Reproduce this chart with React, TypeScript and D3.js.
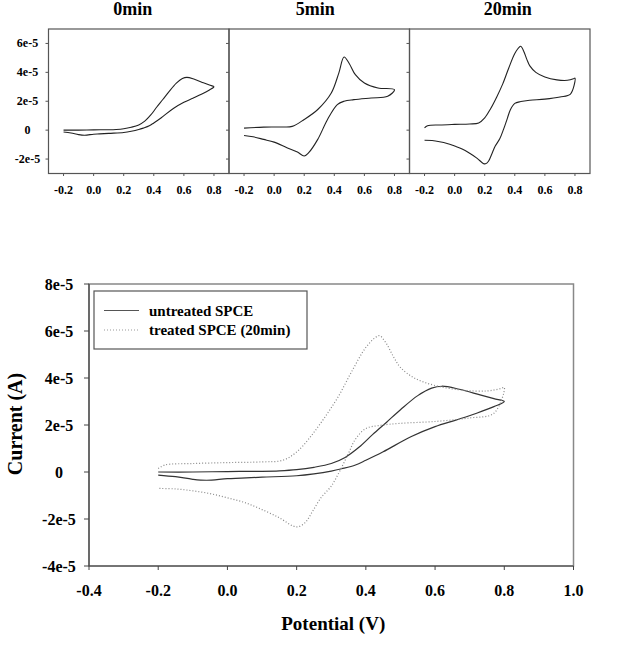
import React from "react";
import * as d3 from "d3";

// potential (V), current (units of 1e-5 A)
const untreatedForward: [number, number][] = [
  [-0.2, 0.0], [-0.1, 0.0], [0.0, 0.02], [0.1, 0.03], [0.15, 0.05], [0.2, 0.1],
  [0.25, 0.2], [0.3, 0.36], [0.34, 0.62], [0.38, 1.05], [0.42, 1.6], [0.46, 2.12],
  [0.5, 2.65], [0.55, 3.25], [0.59, 3.57], [0.62, 3.65], [0.67, 3.52], [0.73, 3.28],
  [0.77, 3.12], [0.8, 3.0],
];
const untreatedReverse: [number, number][] = [
  [0.8, 3.0], [0.77, 2.78], [0.72, 2.5], [0.66, 2.21], [0.6, 1.93], [0.53, 1.5],
  [0.45, 0.86], [0.4, 0.5], [0.37, 0.3], [0.33, 0.14], [0.3, 0.04], [0.25, -0.08],
  [0.2, -0.16], [0.1, -0.22], [0.04, -0.26], [0.0, -0.28], [-0.06, -0.35],
  [-0.1, -0.31], [-0.15, -0.2], [-0.2, -0.13],
];

const fiveMinForward: [number, number][] = [
  [-0.2, 0.14], [-0.07, 0.21], [0.05, 0.22], [0.12, 0.26], [0.2, 0.74], [0.29, 1.43],
  [0.38, 2.57], [0.43, 3.95], [0.465, 5.06], [0.5, 4.6], [0.54, 3.84], [0.6, 3.26],
  [0.69, 2.92], [0.8, 2.8],
];
const fiveMinReverse: [number, number][] = [
  [0.8, 2.46], [0.755, 2.34], [0.645, 2.23], [0.53, 2.11], [0.465, 2.0], [0.42, 1.77],
  [0.355, 0.74], [0.29, -0.64], [0.23, -1.56], [0.2, -1.79], [0.155, -1.52],
  [0.085, -1.22], [0.0, -0.83], [-0.07, -0.64], [-0.14, -0.46], [-0.2, -0.37],
];

const treatedForward: [number, number][] = [
  [-0.2, 0.15], [-0.18, 0.3], [-0.1, 0.36], [0.0, 0.4], [0.1, 0.43], [0.16, 0.5],
  [0.2, 0.85], [0.24, 1.5], [0.28, 2.3], [0.32, 3.2], [0.36, 4.3], [0.4, 5.3],
  [0.43, 5.75], [0.44, 5.8], [0.46, 5.45], [0.48, 4.9], [0.5, 4.45], [0.54, 4.0],
  [0.6, 3.68], [0.68, 3.48], [0.75, 3.45], [0.79, 3.55], [0.8, 3.6],
];
const treatedReverse: [number, number][] = [
  [0.8, 2.85], [0.77, 2.5], [0.7, 2.3], [0.6, 2.15], [0.5, 2.07], [0.44, 1.98],
  [0.4, 1.85], [0.37, 1.4], [0.35, 0.8], [0.325, 0.05], [0.3, -0.6], [0.27, -1.1],
  [0.245, -1.7], [0.225, -2.15], [0.205, -2.33], [0.19, -2.3], [0.15, -1.95],
  [0.1, -1.6], [0.05, -1.3], [0.0, -1.1], [-0.05, -0.92], [-0.1, -0.8],
  [-0.15, -0.72], [-0.2, -0.7],
];

const panelTitles = ["0min", "5min", "20min"];
const panelTicksX = [-0.2, 0.0, 0.2, 0.4, 0.6, 0.8];
const panelTicksY = [-2, 0, 2, 4, 6];
const mainTicksX = [-0.4, -0.2, 0.0, 0.2, 0.4, 0.6, 0.8, 1.0];
const mainTicksY = [-4, -2, 0, 2, 4, 6, 8];
const legendLabels = ["untreated SPCE", "treated SPCE (20min)"];

const FONT = "'Liberation Serif', 'Times New Roman', serif";
const txt = { fontFamily: FONT, fontWeight: "bold" as const };

const loop = (fwd: [number, number][], rev: [number, number][]) => fwd.concat(rev.slice(1));
const fmtY = (d: number) => (d === 0 ? "0" : `${d}e-5`);
const fmtX = (d: number) => d.toFixed(1);

const panelCurves = [
  loop(untreatedForward, untreatedReverse),
  loop(fiveMinForward, fiveMinReverse),
  loop(treatedForward, treatedReverse),
];

const Panel = ({ index }: { index: number }) => {
  const w = 180.5;
  const left = 48.5 + index * w;
  const top = 29, bottom = 173.5;
  const x = d3.scaleLinear().domain([-0.3, 0.9]).range([left, left + w]);
  const y = d3.scaleLinear().domain([-3, 7]).range([bottom, top]);
  const line = d3.line<[number, number]>()
    .x(d => x(d[0]))
    .y(d => y(d[1]))
    .curve(d3.curveCatmullRom.alpha(0.5));
  const titleShift = [-6, -4, 8][index];

  return (
    <g>
      <text x={left + w / 2 + titleShift} y={15} textAnchor="middle" style={{ ...txt, fontSize: 18 }}>
        {panelTitles[index]}
      </text>
      <rect x={left} y={top} width={w} height={bottom - top} fill="none" stroke="#555" strokeWidth={1.2} />
      {panelTicksY.map(t => (
        <line key={t} x1={left - 3} x2={left} y1={y(t)} y2={y(t)} stroke="#555" />
      ))}
      {index === 0 && panelTicksY.map(t => (
        <text key={t} x={27.5} y={y(t) + 4} textAnchor="middle" style={{ ...txt, fontSize: 12 }}>{fmtY(t)}</text>
      ))}
      {panelTicksX.map(t => (
        <g key={t}>
          <line x1={x(t)} x2={x(t)} y1={bottom} y2={bottom + 2.5} stroke="#555" />
          <text x={x(t)} y={194} textAnchor="middle" style={{ ...txt, fontSize: 12 }}>{fmtX(t)}</text>
        </g>
      ))}
      <path d={line(panelCurves[index]) || ""} fill="none" stroke="#222" strokeWidth={1.1} />
    </g>
  );
};

const MainChart = () => {
  const left = 89, right = 573.5, top = 284, bottom = 566;
  const x = d3.scaleLinear().domain([-0.4, 1.0]).range([left, right]);
  const y = d3.scaleLinear().domain([-4, 8]).range([bottom, top]);
  const line = d3.line<[number, number]>()
    .x(d => x(d[0]))
    .y(d => y(d[1]))
    .curve(d3.curveCatmullRom.alpha(0.5));

  return (
    <g>
      <rect x={left} y={top} width={right - left} height={bottom - top} fill="none" stroke="#888" strokeWidth={1.5} />
      <line x1={left} x2={left} y1={top} y2={bottom} stroke="#444" strokeWidth={1.2} />
      <line x1={left} x2={right} y1={bottom} y2={bottom} stroke="#444" strokeWidth={1.2} />
      {mainTicksY.map(t => (
        <g key={t}>
          <line x1={left - 5} x2={left} y1={y(t)} y2={y(t)} stroke="#444" />
          <text x={59} y={y(t) + 5.5} textAnchor="middle" style={{ ...txt, fontSize: 16 }}>{fmtY(t)}</text>
        </g>
      ))}
      {mainTicksX.map(t => (
        <g key={t}>
          <line x1={x(t)} x2={x(t)} y1={bottom} y2={bottom + 4} stroke="#444" />
          <text x={x(t)} y={596} textAnchor="middle" style={{ ...txt, fontSize: 16 }}>{fmtX(t)}</text>
        </g>
      ))}
      <text x={(left + right) / 2 + 2} y={630} textAnchor="middle" style={{ ...txt, fontSize: 19 }}>Potential (V)</text>
      <text transform="translate(22,424) rotate(-90)" textAnchor="middle" style={{ ...txt, fontSize: 20 }}>Current (A)</text>

      <path d={line(loop(untreatedForward, untreatedReverse)) || ""} fill="none" stroke="#333" strokeWidth={1.2} />
      <path d={line(loop(treatedForward, treatedReverse)) || ""} fill="none" stroke="#888"
        strokeWidth={1.2} strokeDasharray="1,2" />

      <rect x={94} y={291} width={213} height={58} fill="white" stroke="#555" strokeWidth={1.2} />
      {legendLabels.map((label, i) => (
        <g key={label}>
          <line x1={104} x2={139} y1={310.5 + i * 19.5} y2={310.5 + i * 19.5}
            stroke={i === 0 ? "#555" : "#999"} strokeWidth={1.2}
            strokeDasharray={i === 0 ? undefined : "1,2"} />
          <text x={149} y={315.5 + i * 19.5} style={{ ...txt, fontSize: 15 }}>{label}</text>
        </g>
      ))}
    </g>
  );
};

export default function App() {
  return (
    <svg width={623} height={647} style={{ position: "absolute", left: 0, top: 0, background: "white" }}>
      {panelTitles.map((_, i) => <Panel key={i} index={i} />)}
      <MainChart />
    </svg>
  );
}
